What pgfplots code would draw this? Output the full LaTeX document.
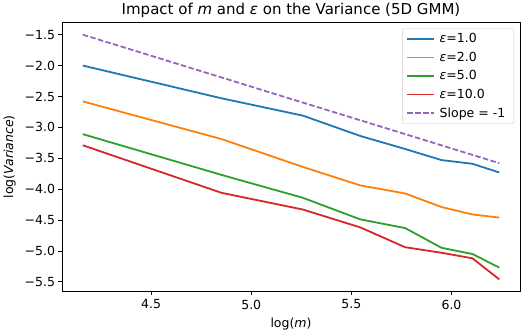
\documentclass[border=0pt]{standalone}
\usepackage{fontspec}
\setmainfont{DejaVu Sans}
\usepackage{pgfplots}
\usepackage{pgfplotstable}
\pgfplotsset{compat=1.18}

\definecolor{tabblue}{HTML}{1F77B4}
\definecolor{taborange}{HTML}{FF7F0E}
\definecolor{tabgreen}{HTML}{2CA02C}
\definecolor{tabred}{HTML}{D62728}
\definecolor{tabpurple}{HTML}{9467BD}

% x = log(m), m = 64,128,...,512
\pgfplotstableread{
x      e1    e2    e5    e10   slope
4.1589 -2.00 -2.58 -3.11 -3.29 -1.500
4.8520 -2.53 -3.19 -3.77 -4.06 -2.193
5.2575 -2.81 -3.64 -4.14 -4.33 -2.599
5.5452 -3.14 -3.94 -4.49 -4.62 -2.886
5.7683 -3.35 -4.07 -4.63 -4.94 -3.109
5.9506 -3.53 -4.29 -4.95 -5.03 -3.292
6.1048 -3.59 -4.41 -5.05 -5.12 -3.446
6.2383 -3.73 -4.46 -5.27 -5.46 -3.579
}\data

\begin{document}
\begin{tikzpicture}
\begin{axis}[
    width=458bp, height=269bp,
    scale only axis,
    xmin=4.055, xmax=6.342,
    ymin=-5.654, ymax=-1.30,
    xtick={4.5,5.0,5.5,6.0},
    xticklabels={4.5,5.0,5.5,6.0},
    ytick={-5.5,-5.0,-4.5,-4.0,-3.5,-3.0,-2.5,-2.0,-1.5},
    yticklabels={−5.5,−5.0,−4.5,−4.0,−3.5,−3.0,−2.5,−2.0,−1.5},
    xtick pos=bottom, ytick pos=left,
    tick align=outside,
    major tick length=3.5bp,
    every tick/.style={black, line width=0.8bp},
    axis line style={black, line width=0.8bp},
    tick label style={font=\fontsize{12.5bp}{15bp}\selectfont},
    xticklabel style={yshift=-1.5bp},
    yticklabel style={xshift=0bp},
    label style={font=\fontsize{12.5bp}{15bp}\selectfont},
    xlabel={log(\textit{m})},
    ylabel={log(\textit{Variance})},
    xlabel style={yshift=-2bp},
    ylabel style={yshift=2bp},
    title={Impact of \textit{m} and \textit{ε} on the Variance (5D GMM)},
    title style={font=\fontsize{15bp}{18bp}\selectfont, yshift=-5bp},
    legend style={at={(1,1)}, anchor=north east, xshift=-6bp, yshift=-6bp,
        draw=black!20, rounded corners=2bp, fill=white, fill opacity=0.8,
        text opacity=1, font=\fontsize{12.5bp}{15bp}\selectfont,
        inner xsep=4bp, inner ysep=3bp, row sep=3.8bp,
        nodes={inner xsep=4.5bp}},
    legend cell align=left,
    legend image code/.code={\draw[#1] (0bp,0bp) -- (27bp,0bp);},
]
\addplot[tabblue, line width=1.8bp] table[x=x, y=e1] {\data};
\addplot[taborange, line width=1.8bp] table[x=x, y=e2] {\data};
\addplot[tabgreen, line width=1.8bp] table[x=x, y=e5] {\data};
\addplot[tabred, line width=1.8bp] table[x=x, y=e10] {\data};
\addplot[tabpurple, line width=1.8bp, dash pattern=on 5.5bp off 2.4bp] table[x=x, y=slope] {\data};
\legend{\textit{ε}=1.0, \textit{ε}=2.0, \textit{ε}=5.0, \textit{ε}=10.0, Slope = -1}
\end{axis}
\path[use as bounding box] (-62bp,-42bp) rectangle (460bp,290bp);
\end{tikzpicture}
\end{document}
